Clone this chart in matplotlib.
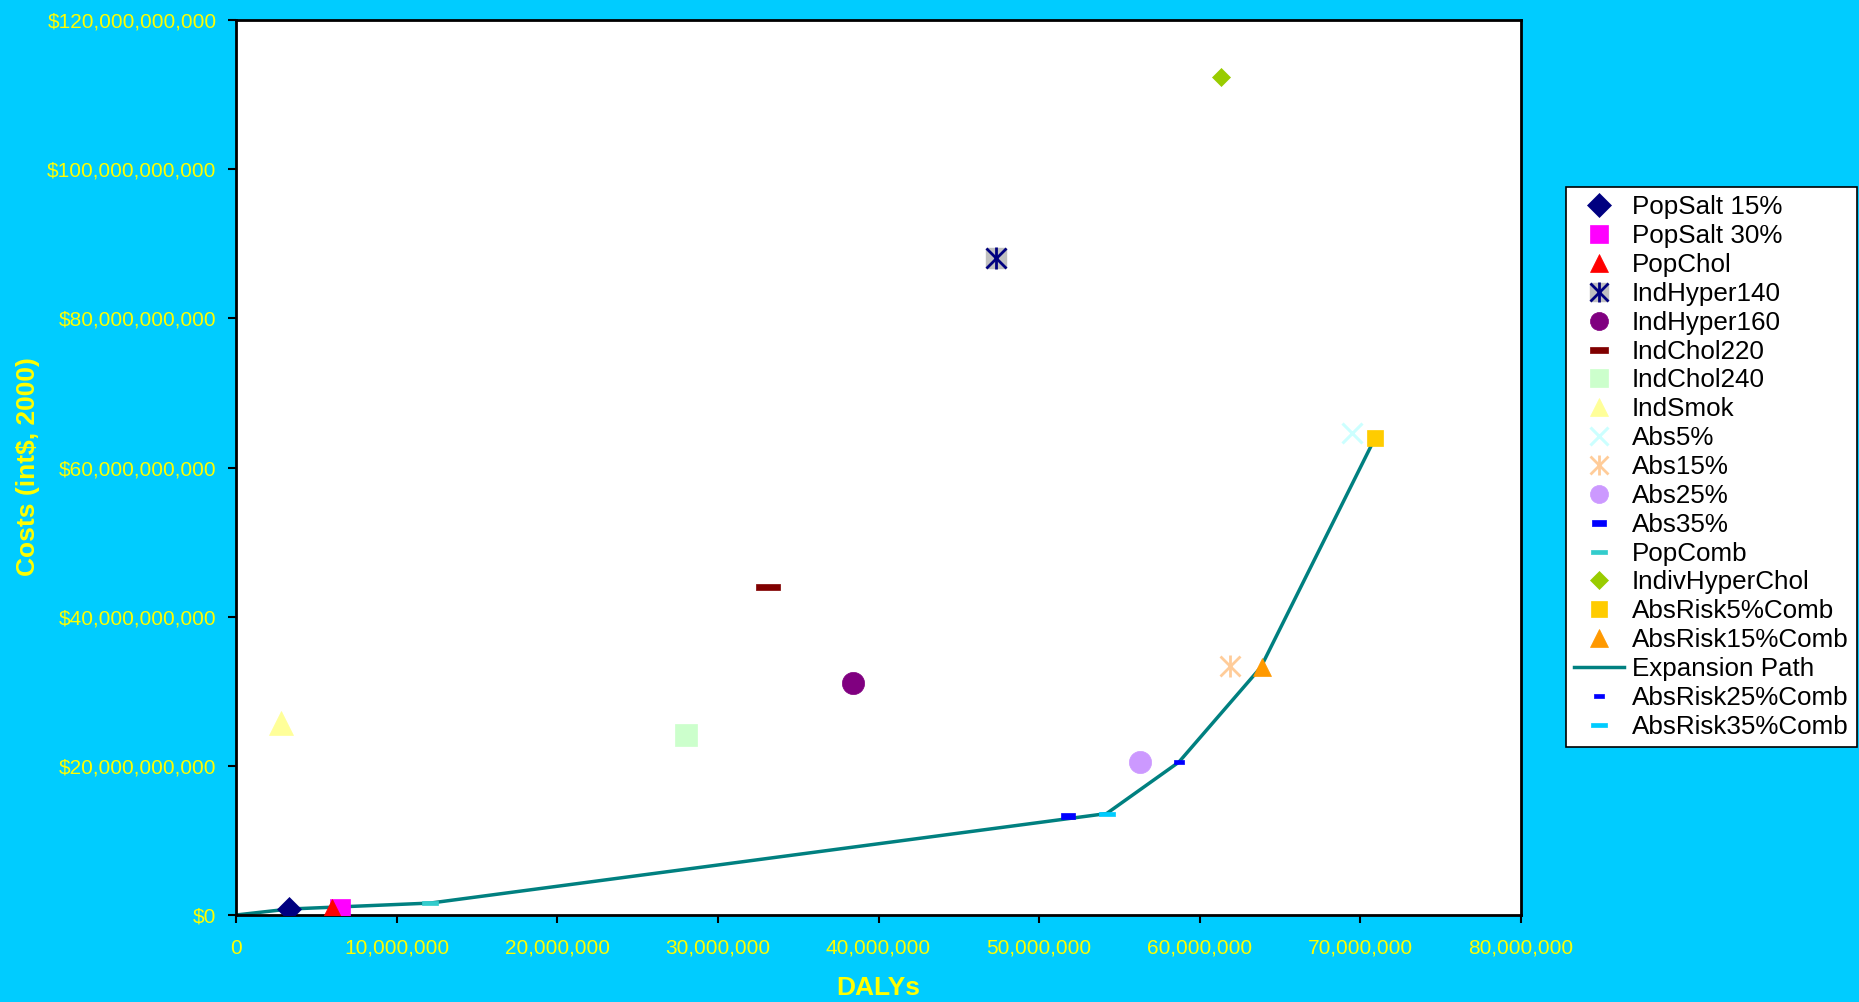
import numpy as np
import matplotlib.pyplot as plt
from matplotlib.ticker import FuncFormatter, MultipleLocator
from matplotlib.lines import Line2D
from matplotlib.legend_handler import HandlerTuple

plt.rcParams['font.family'] = ['Liberation Sans', 'DejaVu Sans']

# intervention results: DALYs averted and costs (int$, 2000)
names = ['PopSalt 15%', 'PopSalt 30%', 'PopChol', 'IndHyper140', 'IndHyper160',
         'IndChol220', 'IndChol240', 'IndSmok', 'Abs5%', 'Abs15%', 'Abs25%',
         'Abs35%', 'PopComb', 'IndivHyperChol', 'AbsRisk5%Comb', 'AbsRisk15%Comb',
         'AbsRisk25%Comb', 'AbsRisk35%Comb']
dalys = [3.3e6, 6.5e6, 6.0e6, 47.3e6, 38.4e6,
         33.1e6, 28.0e6, 2.8e6, 69.5e6, 61.9e6, 56.3e6,
         51.8e6, 12.1e6, 61.3e6, 70.9e6, 63.9e6,
         58.7e6, 54.2e6]
costs = [0.8e9, 0.8e9, 0.6e9, 88.1e9, 31.1e9,
         44.0e9, 24.1e9, 25.7e9, 64.6e9, 33.4e9, 20.5e9,
         13.3e9, 1.6e9, 112.3e9, 63.9e9, 33.2e9,
         20.5e9, 13.6e9]

# expansion path through the efficient interventions
path_dalys = [0, 3.3e6, 12.1e6, 54.2e6, 58.7e6, 63.8e6, 70.9e6]
path_costs = [0, 0.8e9, 1.6e9, 13.6e9, 20.5e9, 33.2e9, 63.9e9]


def dash(w, h):
    return [(-w, -h), (w, -h), (w, h), (-w, h), (-w, -h)]


star = 'star'
styles = {
    'PopSalt 15%': dict(marker='D', color='#000080', ms=12),
    'PopSalt 30%': dict(marker='s', color='#FF00FF', ms=15),
    'PopChol': dict(marker='^', color='#FF0000', ms=17),
    'IndHyper140': dict(marker=star, color='#000080', ms=15),
    'IndHyper160': dict(marker='o', color='#800080', ms=16),
    'IndChol220': dict(marker=dash(1, 0.28), color='#800000', ms=17),
    'IndChol240': dict(marker='s', color='#CCFFCC', ms=16),
    'IndSmok': dict(marker='^', color='#FFFF99', ms=17),
    'Abs5%': dict(marker='x', color='#CCFFFF', ms=15, mew=2.2),
    'Abs15%': dict(marker=star, color='#FFCC99', ms=15),
    'Abs25%': dict(marker='o', color='#CC99FF', ms=16),
    'Abs35%': dict(marker=dash(1, 0.38), color='#0000FF', ms=10),
    'PopComb': dict(marker=dash(1, 0.28), color='#33CCCC', ms=11),
    'IndivHyperChol': dict(marker='D', color='#99CC00', ms=9),
    'AbsRisk5%Comb': dict(marker='s', color='#FFCC00', ms=11),
    'AbsRisk15%Comb': dict(marker='^', color='#FF9900', ms=13),
    'AbsRisk25%Comb': dict(marker=dash(1, 0.4), color='#0000FF', ms=7),
    'AbsRisk35%Comb': dict(marker=dash(1, 0.3), color='#00CCFF', ms=11),
}

fig = plt.figure(figsize=(18.59, 10.02), dpi=100, facecolor='#00CCFF')
ax = fig.add_axes([236 / 1859, 1 - 915 / 1002, (1521 - 236) / 1859, (915 - 20) / 1002])
ax.set_facecolor('white')

handles = []
for name, x, y in zip(names, dalys, costs):
    st = styles[name]
    if st['marker'] == star:
        # Excel style star: an x with a vertical stroke, grey square behind for IndHyper140
        if name == 'IndHyper140':
            ax.plot(x, y, marker='s', color='#C0C0C0', ms=st['ms'] * 0.95, ls='none', zorder=3)
        ax.plot(x, y, marker='x', color=st['color'], ms=st['ms'], mew=2, ls='none', zorder=4)
        ax.plot(x, y, marker='|', color=st['color'], ms=st['ms'] * 1.1, mew=2, ls='none', zorder=4)
        parts = []
        if name == 'IndHyper140':
            parts.append(Line2D([], [], marker='s', color='#C0C0C0', ms=13, ls='none'))
        parts.append(Line2D([], [], marker='x', color=st['color'], ms=13, mew=2, ls='none'))
        parts.append(Line2D([], [], marker='|', color=st['color'], ms=14, mew=2, ls='none'))
        handles.append((tuple(parts), name))
    else:
        ax.plot(x, y, marker=st['marker'], color=st['color'], ms=st['ms'],
                mew=st.get('mew', 0.5), ls='none', zorder=3)
        handles.append((Line2D([], [], marker=st['marker'], color=st['color'],
                               ms=min(st['ms'], 13), mew=st.get('mew', 0.5), ls='none'), name))
    if name == 'AbsRisk15%Comb':
        ax.plot(path_dalys, path_costs, color='#008080', lw=2.5, zorder=2)
        handles.append((Line2D([], [], color='#008080', lw=2.5), 'Expansion Path'))

ax.set_xlim(0, 80e6)
ax.set_ylim(0, 120e9)
ax.xaxis.set_major_locator(MultipleLocator(10e6))
ax.yaxis.set_major_locator(MultipleLocator(20e9))
ax.xaxis.set_major_formatter(FuncFormatter(lambda v, p: '{:,.0f}'.format(v)))
ax.yaxis.set_major_formatter(FuncFormatter(lambda v, p: '${:,.0f}'.format(v)))
ax.tick_params(axis='both', colors='black', labelcolor='#FFFF00', labelsize=15,
               direction='out', length=6, width=1.5)
ax.tick_params(axis='x', pad=11)
ax.tick_params(axis='y', pad=8)
for sp in ax.spines.values():
    sp.set_linewidth(2)
    sp.set_color('black')

fig.text(878 / 1859, 1 - 988 / 1002, 'DALYs', color='#FFFF00',
         fontsize=19, fontweight='bold', ha='center', va='center')
fig.text(28 / 1859, 1 - 467 / 1002, 'Costs (int$, 2000)', color='#FFFF00',
         fontsize=19, fontweight='bold', ha='center', va='center', rotation=90)

leg = fig.legend([h for h, _ in handles], [n for _, n in handles],
                 loc='upper left', bbox_to_anchor=(1566 / 1859, 1 - 187 / 1002),
                 bbox_transform=fig.transFigure, fontsize=18.7, frameon=True,
                 fancybox=False, edgecolor='black', framealpha=1,
                 labelspacing=0.187, handlelength=1.9, handletextpad=0.32,
                 borderpad=0.32, borderaxespad=0,
                 handler_map={tuple: HandlerTuple(ndivide=1, pad=0)})
leg.get_frame().set_linewidth(1.2)

fig.savefig('out.png', dpi=100, facecolor=fig.get_facecolor())
